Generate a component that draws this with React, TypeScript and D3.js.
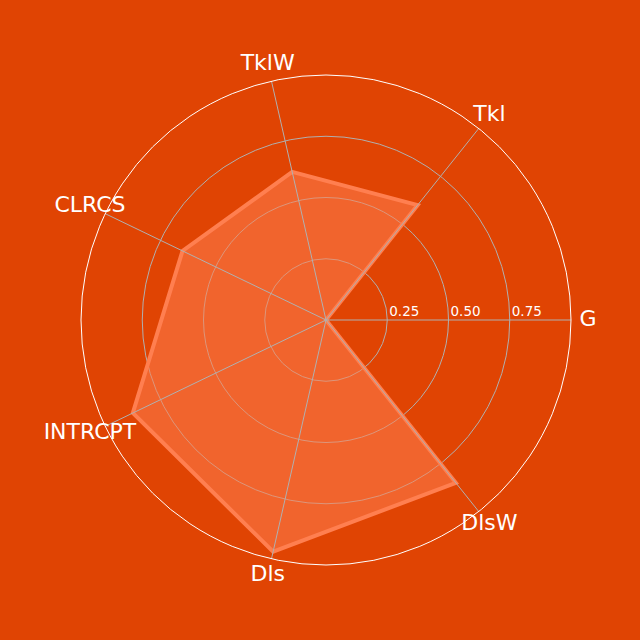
import {useEffect, useRef} from "react";
import * as d3 from "d3";

const categories = ["G", "Tkl", "TklW", "CLRCS", "INTRCPT", "Dls", "DlsW"];
const values = [0, 0.6, 0.62, 0.65, 0.875, 0.97, 0.85];
const ticks = [0.25, 0.5, 0.75];
const ticksLabels = ["0.25", "0.50", "0.75"];

const App = () => {
	const svgRef = useRef<SVGSVGElement | null>(null);

	useEffect(() => {
		const width = 640;
		const height = 640;
		const cx = 326;
		const cy = 320;
		const radius = 245;

		const svg = d3.select(svgRef.current)
			.attr("width", width)
			.attr("height", height)
			.attr("viewBox", [0, 0, width, height].join(" "));

		svg.selectAll("*").remove();

		svg.append("rect")
			.attr("width", width)
			.attr("height", height)
			.attr("fill", "#E04403");

		const r = d3.scaleLinear().domain([0, 1]).range([0, radius]);
		const angle = d3.scaleLinear()
			.domain([0, categories.length])
			.range([0, 2 * Math.PI]);

		// point on axis i at value v (angles counter-clockwise from the right)
		const pt = (i: number, v: number): [number, number] => [
			cx + r(v) * Math.cos(angle(i)),
			cy - r(v) * Math.sin(angle(i)),
		];

		const g = svg.append("g");

		// inner grid circles
		g.selectAll("circle.grid")
			.data(ticks)
			.join("circle")
			.attr("class", "grid")
			.attr("cx", cx)
			.attr("cy", cy)
			.attr("r", (d) => r(d))
			.attr("fill", "none")
			.attr("stroke", "#B0B0B0")
			.attr("stroke-width", 1);

		// polygon
		const line = d3.line<number>()
			.x((d, i) => pt(i, d)[0])
			.y((d, i) => pt(i, d)[1])
			.curve(d3.curveLinearClosed);

		g.append("path")
			.attr("d", line(values))
			.attr("fill", "#FF7F50")
			.attr("fill-opacity", 0.55)
			.attr("stroke", "#FF7F50")
			.attr("stroke-width", 4)
			.attr("stroke-linejoin", "miter");

		// spokes
		g.selectAll("line.spoke")
			.data(categories)
			.join("line")
			.attr("class", "spoke")
			.attr("x1", cx)
			.attr("y1", cy)
			.attr("x2", (d, i) => pt(i, 1)[0])
			.attr("y2", (d, i) => pt(i, 1)[1])
			.attr("stroke", "#B0B0B0")
			.attr("stroke-width", 1);

		// outer circle
		g.append("circle")
			.attr("cx", cx)
			.attr("cy", cy)
			.attr("r", r(1))
			.attr("fill", "none")
			.attr("stroke", "#FFFFFF")
			.attr("stroke-width", 1);

		// tick labels
		g.selectAll("text.tick")
			.data(ticks)
			.join("text")
			.attr("class", "tick")
			.attr("x", (d) => cx + r(d) + 2)
			.attr("y", cy - 4)
			.attr("font-family", "DejaVu Sans")
			.attr("font-size", 13.5)
			.attr("fill", "#FFFFFF")
			.text((d, i) => ticksLabels[i]);

		// category labels
		g.selectAll("text.cat")
			.data(categories)
			.join("text")
			.attr("class", "cat")
			.attr("x", (d, i) => cx + 262 * Math.cos(angle(i)))
			.attr("y", (d, i) => cy - 2 - 262 * Math.sin(angle(i)))
			.attr("text-anchor", "middle")
			.attr("dominant-baseline", "central")
			.attr("font-family", "DejaVu Sans")
			.attr("font-size", 22)
			.attr("fill", "#FFFFFF")
			.text((d) => d);
	}, []);

	return (
		<div style={{position: "absolute", left: 0, top: 0}}>
			<svg ref={svgRef} style={{display: "block"}}></svg>
		</div>
	);
};

export default App;
